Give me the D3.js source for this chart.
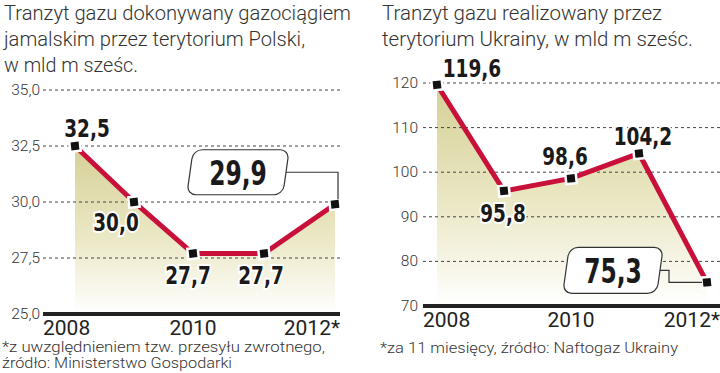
<!DOCTYPE html>
<html>
<head>
<meta charset="utf-8">
<script src="https://cdn.jsdelivr.net/npm/d3@7"></script>
<style>
  body { margin: 0; background: #fff; }
  text { font-family: Roboto, 'Liberation Sans', sans-serif; }
  .title, .note, .tick { font-weight: 300; fill: #333; }
  .val { font-family: 'Liberation Sans Narrow', 'DejaVu Sans Condensed', sans-serif; font-weight: bold; fill: #1a1a1a; }
</style>
</head>
<body>
<svg id="chart" width="720" height="373"></svg>
<script>
// data
var years = [2008, 2009, 2010, 2011, 2012];
var yearTicks = [2008, 2010, 2012];
var yearLabels = ['2008', '2010', '2012*'];

var jamalValues = [32.5, 30.0, 27.7, 27.7, 29.9];
var jamalTicks = [25, 27.5, 30, 32.5, 35];
var jamalTitle = ['Tranzyt gazu dokonywany gazociągiem', 'jamalskim przez terytorium Polski,', 'w mld m sześc.'];
var jamalNote = ['*z uwzględnieniem tzw. przesyłu zwrotnego,', 'źródło: Ministerstwo Gospodarki'];

var ukraineValues = [119.6, 95.8, 98.6, 104.2, 75.3];
var ukraineTicks = [70, 80, 90, 100, 110, 120];
var ukraineTitle = ['Tranzyt gazu realizowany przez', 'terytorium Ukrainy, w mld m sześc.'];
var ukraineNote = ['*za 11 miesięcy, źródło: Naftogaz Ukrainy'];

var svg = d3.select('#chart');
var defs = svg.append('defs');

var fmt = function(v, digits) {
  return d3.format('.' + digits + 'f')(v).replace('.', ',');
};
// width of a condensed number label: digits ~0.5em, comma ~0.25em
var numWidth = function(s, em) {
  var w = 0;
  s.split('').forEach(function(c) { w += (c == ',' ? 0.25 : 0.5) * em; });
  return w;
};

var panels = [
  {
    id: 'jamal', values: jamalValues, ticks: jamalTicks, tickDigits: 1,
    title: jamalTitle, titleX: 4, titleWidths: [347, 301, 134],
    note: jamalNote, noteX: 2, noteY: [352, 368], noteWidths: [323, 230],
    left: 43, right: 340, xRange: [75, 193, 335], yRange: [314, 90], tickX: 40,
    labelOffsets: [[12, -9], [-18, 29], [-5, 30], [-3, 30], null],
    box: { index: 4, dx: -97, dy: -32, w: 96, h: 45, link: 'down' }
  },
  {
    id: 'ukraine', values: ukraineValues, ticks: ukraineTicks, tickDigits: 0,
    title: ukraineTitle, titleX: 382, titleWidths: [280, 311],
    note: ukraineNote, noteX: 380, noteY: [353], noteWidths: [298],
    left: 423, right: 720, xRange: [437, 571, 707], yRange: [306, 83], tickX: 418,
    labelOffsets: [[35, -8], [-1, 31], [-6, -13], [4, -8], null],
    box: { index: 4, dx: -94, dy: -12, w: 94, h: 46, link: 'step' }
  }
];

panels.forEach(function(p) {
  var g = svg.append('g').attr('class', p.id);
  var x = d3.scaleLinear().domain(yearTicks).range(p.xRange);
  var y = d3.scaleLinear().domain([p.ticks[0], p.ticks[p.ticks.length - 1]]).range(p.yRange);
  var base = y(p.ticks[0]);

  // title lines
  p.title.forEach(function(line, i) {
    g.append('text').attr('class', 'title')
      .attr('x', p.titleX).attr('y', 20 + i * 26)
      .attr('font-size', 21)
      .attr('textLength', p.titleWidths[i]).attr('lengthAdjust', 'spacingAndGlyphs')
      .text(line);
  });

  // gradient area under the line
  var grad = defs.append('linearGradient').attr('id', 'grad-' + p.id)
    .attr('gradientUnits', 'userSpaceOnUse')
    .attr('x1', 0).attr('x2', 0)
    .attr('y1', y(d3.max(p.values))).attr('y2', base);
  grad.append('stop').attr('offset', 0).attr('stop-color', '#d5d096');
  grad.append('stop').attr('offset', 0.55).attr('stop-color', '#ebe8c6');
  grad.append('stop').attr('offset', 1).attr('stop-color', '#ffffff');

  var area = d3.area()
    .x(function(d, i) { return x(years[i]); })
    .y0(base)
    .y1(function(d) { return y(d); });
  g.append('path').datum(p.values).attr('d', area).attr('fill', 'url(#grad-' + p.id + ')');

  // dashed gridlines + tick labels
  p.ticks.forEach(function(t, i) {
    if (i > 0) {
      g.append('line')
        .attr('x1', p.left).attr('x2', p.right)
        .attr('y1', y(t)).attr('y2', y(t))
        .attr('stroke', '#444').attr('stroke-width', 1)
        .attr('stroke-dasharray', '3,3');
    }
    g.append('text').attr('class', 'tick')
      .attr('x', p.tickX).attr('y', y(t) + 5)
      .attr('text-anchor', 'end').attr('font-size', 15.5)
      .text(fmt(t, p.tickDigits));
  });

  // thick baseline
  g.append('line')
    .attr('x1', p.left).attr('x2', p.right)
    .attr('y1', base).attr('y2', base)
    .attr('stroke', '#222').attr('stroke-width', 4);

  // year labels
  yearTicks.forEach(function(yr, i) {
    var anchor = i == 0 ? 'start' : (i == yearTicks.length - 1 ? 'end' : 'middle');
    var xx = i == 0 ? p.left : (i == yearTicks.length - 1 ? p.right : x(yr));
    g.append('text')
      .attr('x', xx).attr('y', base + 21)
      .attr('text-anchor', anchor).attr('font-size', 21)
      .attr('fill', '#222')
      .text(yearLabels[i]);
  });

  // red line
  var line = d3.line()
    .x(function(d, i) { return x(years[i]); })
    .y(function(d) { return y(d); });
  g.append('path').datum(p.values).attr('d', line)
    .attr('fill', 'none').attr('stroke', '#c8103a').attr('stroke-width', 5)
    .attr('stroke-linejoin', 'miter');

  // markers with white halo
  g.selectAll('rect.marker').data(p.values).enter().append('rect')
    .attr('class', 'marker')
    .attr('x', -4).attr('y', -4).attr('width', 8).attr('height', 8)
    .attr('transform', function(d, i) { return 'translate(' + x(years[i]) + ',' + y(d) + ') rotate(-6)'; })
    .attr('fill', '#111').attr('stroke', '#fff').attr('stroke-width', 5)
    .style('paint-order', 'stroke');

  // value labels (white halo knocks out gridlines)
  p.values.forEach(function(v, i) {
    var off = p.labelOffsets[i];
    if (!off) return;
    var s = fmt(v, 1);
    g.append('text').attr('class', 'val')
      .attr('x', x(years[i]) + off[0]).attr('y', y(v) + off[1])
      .attr('text-anchor', 'middle').attr('font-size', 25)
      .attr('textLength', numWidth(s, 26)).attr('lengthAdjust', 'spacingAndGlyphs')
      .attr('stroke', '#fff').attr('stroke-width', 4).style('paint-order', 'stroke')
      .text(s);
  });

  // boxed label
  var b = p.box;
  var px = x(years[b.index]), py = y(p.values[b.index]);
  var cx = px + b.dx, cy = py + b.dy;
  var linkPts;
  if (b.link == 'down') {
    linkPts = [[cx + b.w / 2, cy], [px + 3, cy], [px + 3, py - 5]];
  } else {
    linkPts = [[cx + b.w / 2, cy], [cx + b.w / 2 + 9, cy], [cx + b.w / 2 + 9, py], [px - 5, py]];
  }
  g.append('path').attr('d', d3.line()(linkPts))
    .attr('fill', 'none').attr('stroke', '#333').attr('stroke-width', 1.2);
  var bg = g.append('g').attr('transform', 'translate(' + cx + ',' + cy + ') skewX(-8)');
  bg.append('rect')
    .attr('x', -b.w / 2).attr('y', -b.h / 2).attr('width', b.w).attr('height', b.h)
    .attr('rx', 9).attr('fill', '#fff').attr('stroke', '#333').attr('stroke-width', 1.2);
  var bs = fmt(p.values[b.index], 1);
  g.append('text').attr('class', 'val')
    .attr('x', cx).attr('y', cy + 12.5)
    .attr('text-anchor', 'middle').attr('font-size', 34)
    .attr('textLength', numWidth(bs, 33)).attr('lengthAdjust', 'spacingAndGlyphs')
    .text(bs);

  // footnote
  p.note.forEach(function(line, i) {
    g.append('text').attr('class', 'note')
      .attr('x', p.noteX).attr('y', p.noteY[i])
      .attr('font-size', 14.5)
      .attr('textLength', p.noteWidths[i]).attr('lengthAdjust', 'spacingAndGlyphs')
      .text(line);
  });
});
</script>
</body>
</html>
